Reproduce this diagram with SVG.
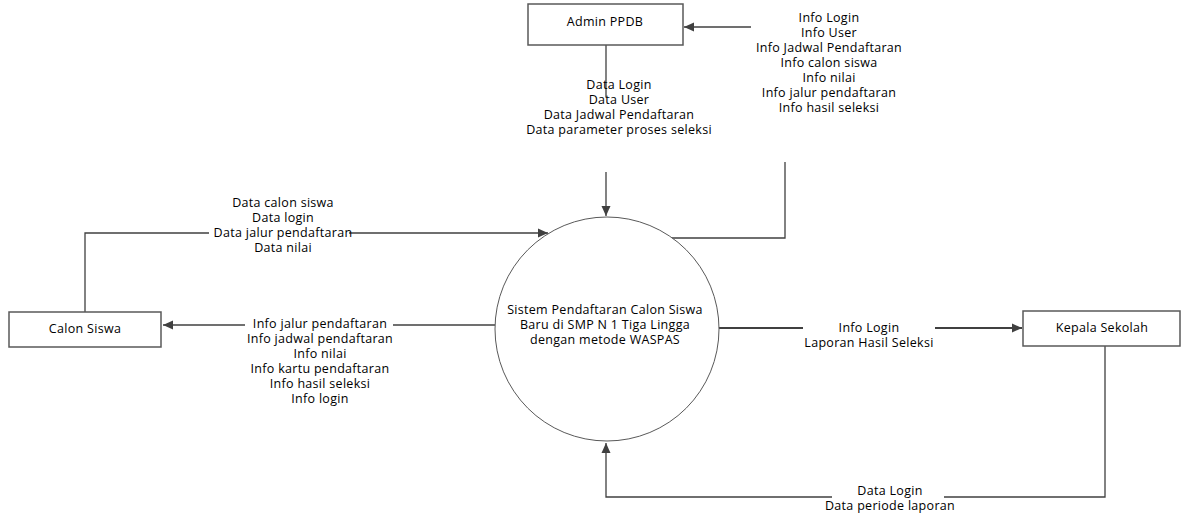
<svg xmlns="http://www.w3.org/2000/svg" width="1181" height="514" viewBox="0 0 1181 514">
<style>
text{font-family:"Open Sans","Liberation Sans",Arial,sans-serif;font-size:12.5px;letter-spacing:0.3px;fill:#000;text-anchor:middle}
.box{fill:#fff;stroke:#595959;stroke-width:1.5}
.proc{fill:#fff;stroke:#595959;stroke-width:1}
.ln{fill:none;stroke:#404040;stroke-width:1.3}
.bold{fill:none;stroke:#404040;stroke-width:2.2}
.bg{fill:#fff}
</style>
<defs>
<marker id="ah" viewBox="0 0 10 10" refX="10" refY="5" markerWidth="10" markerHeight="10" markerUnits="userSpaceOnUse" orient="auto">
<path d="M0,0.5 L10,5 L0,9.5 Z" fill="#404040"/>
</marker>
</defs>
<rect width="1181" height="514" fill="#fff"/>
<g id="connectors">
<path class="ln" d="M751,27 H684" marker-end="url(#ah)"/>
<path class="ln" d="M606,45 V97"/>
<path class="ln" d="M606,172 V216" marker-end="url(#ah)"/>
<path class="ln" d="M785,162 V238 H671"/>
<path class="ln" d="M85,312 V233 H548" marker-end="url(#ah)"/>
<path class="ln" d="M495,325 H163" marker-end="url(#ah)"/>
<path class="bold" d="M717,328 H803"/>
<path class="bold" d="M935,328 H1022" marker-end="url(#ah)"/>
<path class="ln" d="M1105,346 V497 H606 V443" marker-end="url(#ah)"/>
<g id="lbl-admin-in">
<text x="619" y="89">Data Login</text>
<text x="619" y="104">Data User</text>
<text x="619" y="119">Data Jadwal Pendaftaran</text>
<text x="619" y="134">Data parameter proses seleksi</text>
</g>
<g id="lbl-admin-out">
<text x="829" y="22">Info Login</text>
<text x="829" y="37">Info User</text>
<text x="829" y="52">Info Jadwal Pendaftaran</text>
<text x="829" y="67">Info calon siswa</text>
<text x="829" y="82">Info nilai</text>
<text x="829" y="97">Info jalur pendaftaran</text>
<text x="829" y="112">Info hasil seleksi</text>
</g>
<g id="lbl-siswa-in">
<rect class="bg" x="209" y="226" width="140" height="14"/>
<text x="283" y="207">Data calon siswa</text>
<text x="283" y="222">Data login</text>
<text x="283" y="237">Data jalur pendaftaran</text>
<text x="283" y="252">Data nilai</text>
</g>
<g id="lbl-siswa-out">
<rect class="bg" x="245" y="318" width="148" height="14"/>
<text x="320" y="328">Info jalur pendaftaran</text>
<text x="320" y="343">Info jadwal pendaftaran</text>
<text x="320" y="358">Info nilai</text>
<text x="320" y="373">Info kartu pendaftaran</text>
<text x="320" y="388">Info hasil seleksi</text>
<text x="320" y="403">Info login</text>
</g>
<g id="lbl-kepala-in">
<text x="869" y="332">Info Login</text>
<text x="869" y="347">Laporan Hasil Seleksi</text>
</g>
<g id="lbl-kepala-out">
<rect class="bg" x="832" y="490" width="112" height="14"/>
<text x="890" y="495">Data Login</text>
<text x="890" y="510">Data periode laporan</text>
</g>
</g>
<g id="admin">
<rect class="box" x="528" y="4" width="155" height="41"/>
<text x="605" y="26">Admin PPDB</text>
</g>
<g id="calon">
<rect class="box" x="9" y="312" width="152" height="35"/>
<text x="85" y="333">Calon Siswa</text>
</g>
<g id="kepala">
<rect class="box" x="1023" y="311" width="157" height="35"/>
<text x="1102" y="332">Kepala Sekolah</text>
</g>
<g id="proses">
<ellipse class="proc" cx="607" cy="329" rx="112" ry="112"/>
<text x="605" y="314">Sistem Pendaftaran Calon Siswa</text>
<text x="605" y="329">Baru di SMP N 1 Tiga Lingga</text>
<text x="605" y="344">dengan metode WASPAS</text>
</g>
</svg>
